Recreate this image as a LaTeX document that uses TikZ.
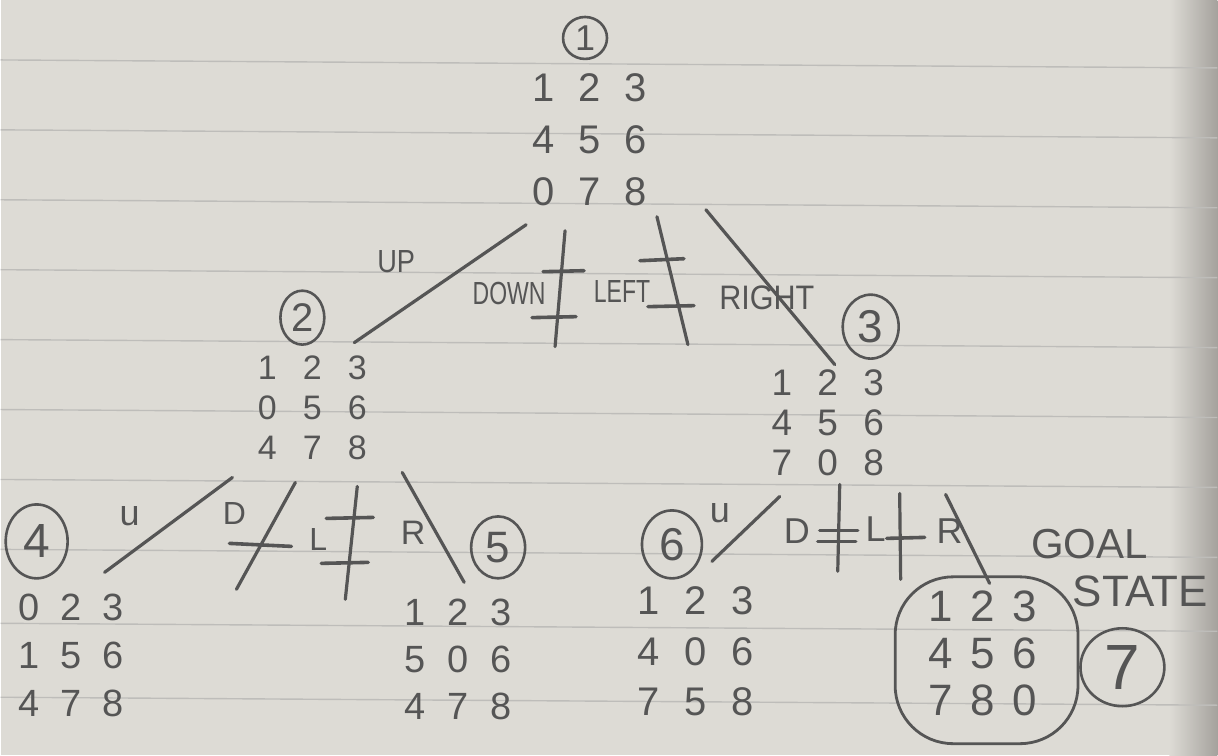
\documentclass[tikz,border=0pt]{standalone}
\usepackage{fontspec}
\setmainfont{Liberation Sans}
\usetikzlibrary{matrix,shapes.geometric}
\definecolor{paper}{RGB}{221,219,213}
\definecolor{ruled}{RGB}{190,189,186}
\definecolor{pencil}{RGB}{85,85,85}
\definecolor{shadow}{RGB}{165,162,157}
\begin{document}
\begin{tikzpicture}[x=1pt,y=-1pt,
  edge/.style={draw=pencil, line width=3.2pt, line cap=round},
  bar/.style={draw=pencil, line width=3.6pt, line cap=round},
  ell/.style={draw=pencil, ellipse, line width=2.6pt, inner sep=0pt, text=pencil},
  lab/.style={text=pencil, inner sep=0pt},
  puz/.style n args={3}{matrix of nodes, inner sep=0pt, column sep=0pt, row sep=0pt,
    nodes={minimum width=#1, minimum height=#2, inner sep=0pt, text=pencil,
      font=\fontsize{#3}{#3}\selectfont}}]
% paper
\fill[paper] (0,0) rectangle (1218,756);
\shade[left color=paper, right color=shadow] (1170,0) rectangle (1218,756);
\foreach \yy in {60,130,200,270,340,410,480,550,624,698}
  \draw[ruled, line width=1.4pt] (0,\yy) -- (1218,\yy+8);
\useasboundingbox (0,0) rectangle (1218,756);

% state numbers
\node[ell, minimum width=44pt, minimum height=42pt, font=\fontsize{36}{36}\selectfont] (c1) at (585,38) {1};
\node[ell, minimum width=44pt, minimum height=54pt, font=\fontsize{40}{40}\selectfont] (c2) at (302,318) {2};
\node[ell, minimum width=56pt, minimum height=64pt, font=\fontsize{46}{46}\selectfont] (c3) at (871,327) {3};
\node[ell, minimum width=62pt, minimum height=74pt, font=\fontsize{48}{48}\selectfont] (c4) at (36,542) {4};
\node[ell, minimum width=54pt, minimum height=62pt, font=\fontsize{44}{44}\selectfont] (c5) at (498,548) {5};
\node[ell, minimum width=60pt, minimum height=68pt, font=\fontsize{46}{46}\selectfont] (c6) at (672,545) {6};
\node[ell, minimum width=84pt, minimum height=78pt, font=\fontsize{64}{64}\selectfont] (c7) at (1123,668) {7};

% puzzle states
\matrix (g1) [puz={46pt}{52pt}{40}] at (590,140) {1 & 2 & 3\\ 4 & 5 & 6\\ 0 & 7 & 8\\};
\matrix (g2) [puz={45pt}{40pt}{34}] at (312,408) {1 & 2 & 3\\ 0 & 5 & 6\\ 4 & 7 & 8\\};
\matrix (g3) [puz={46pt}{40pt}{37}] at (828,423) {1 & 2 & 3\\ 4 & 5 & 6\\ 7 & 0 & 8\\};
\matrix (g4) [puz={42pt}{48pt}{38}] at (70,656) {0 & 2 & 3\\ 1 & 5 & 6\\ 4 & 7 & 8\\};
\matrix (g5) [puz={43pt}{47pt}{38}] at (458,660) {1 & 2 & 3\\ 5 & 0 & 6\\ 4 & 7 & 8\\};
\matrix (g6) [puz={47pt}{51pt}{40}] at (696,652) {1 & 2 & 3\\ 4 & 0 & 6\\ 7 & 5 & 8\\};
\matrix (g7) [puz={42pt}{47pt}{44}] at (983,654) {1 & 2 & 3\\ 4 & 5 & 6\\ 7 & 8 & 0\\};
\node[draw=pencil, line width=2.8pt, rounded corners=58pt, minimum width=183pt, minimum height=167pt] (goal) at (987,661) {};

% move labels
\node[lab, font=\fontsize{32}{32}\selectfont] (lup) at (396,262) {\scalebox{0.85}[1]{UP}};
\node[lab, font=\fontsize{32}{32}\selectfont] (ldown) at (509,294) {\scalebox{0.72}[1]{DOWN}};
\node[lab, font=\fontsize{32}{32}\selectfont] (lleft) at (622,292) {\scalebox{0.72}[1]{LEFT}};
\node[lab, font=\fontsize{34}{34}\selectfont] (lright) at (767,298) {\scalebox{0.9}[1]{RIGHT}};
\node[lab, font=\fontsize{36}{36}\selectfont] (l2u) at (129,517) {u};
\node[lab, font=\fontsize{32}{32}\selectfont] (l2d) at (234,514) {D};
\node[lab, font=\fontsize{32}{32}\selectfont] (l2l) at (318,540) {L};
\node[lab, font=\fontsize{34}{34}\selectfont] (l2r) at (413,533) {R};
\node[lab, font=\fontsize{36}{36}\selectfont] (l3u) at (720,514) {u};
\node[lab, font=\fontsize{36}{36}\selectfont] (l3d) at (797,532) {D};
\node[lab, font=\fontsize{36}{36}\selectfont] (l3l) at (876,530) {L};
\node[lab, font=\fontsize{36}{36}\selectfont] (l3r) at (950,532) {R};
\node[lab, font=\fontsize{42}{42}\selectfont] (tgoal) at (1090,545) {GOAL};
\node[lab, font=\fontsize{44}{44}\selectfont] (tstate) at (1141,592) {STATE};

% connector end points
\coordinate (r1) at (526,225); \coordinate (r1e) at (354,343);
\coordinate (r2) at (565,231); \coordinate (r2e) at (555,347);
\coordinate (r3) at (657,217); \coordinate (r3e) at (688,345);
\coordinate (r4) at (706,210); \coordinate (r4e) at (835,365);
\coordinate (a1) at (232,478); \coordinate (a1e) at (104,573);
\coordinate (a2) at (295,483); \coordinate (a2e) at (236,590);
\coordinate (a3) at (357,487); \coordinate (a3e) at (345,600);
\coordinate (a4) at (402,473); \coordinate (a4e) at (464,583);
\coordinate (b1) at (780,497); \coordinate (b1e) at (712,562);
\coordinate (b2) at (840,485); \coordinate (b2e) at (838,572);
\coordinate (b3) at (900,494); \coordinate (b3e) at (901,580);
\coordinate (b4) at (946,495); \coordinate (b4e) at (990,584);

% connectors
\draw[edge] (r1) -- (r1e);
\draw[edge] (r2) -- (r2e);
\draw[edge] (r3) -- (r3e);
\draw[edge] (r4) -- (r4e);
\draw[edge] (a1) -- (a1e);
\draw[edge] (a2) -- (a2e);
\draw[edge] (a3) -- (a3e);
\draw[edge] (a4) -- (a4e);
\draw[edge] (b1) -- (b1e);
\draw[edge] (b2) -- (b2e);
\draw[edge] (b3) -- (b3e);
\draw[edge] (b4) -- (b4e);

% blocking bars
\draw[bar] (543,272) -- (584,271);
\draw[bar] (532,318) -- (576,317);
\draw[bar] (640,261) -- (684,259);
\draw[bar] (648,307) -- (694,306);
\draw[bar] (229,544) -- (291,547);
\draw[bar] (326,519) -- (373,518);
\draw[bar] (321,564) -- (368,563);
\draw[bar] (820,531) -- (858,531);
\draw[bar] (818,542) -- (856,542);
\draw[bar] (887,539) -- (925,538);
\end{tikzpicture}
\end{document}
